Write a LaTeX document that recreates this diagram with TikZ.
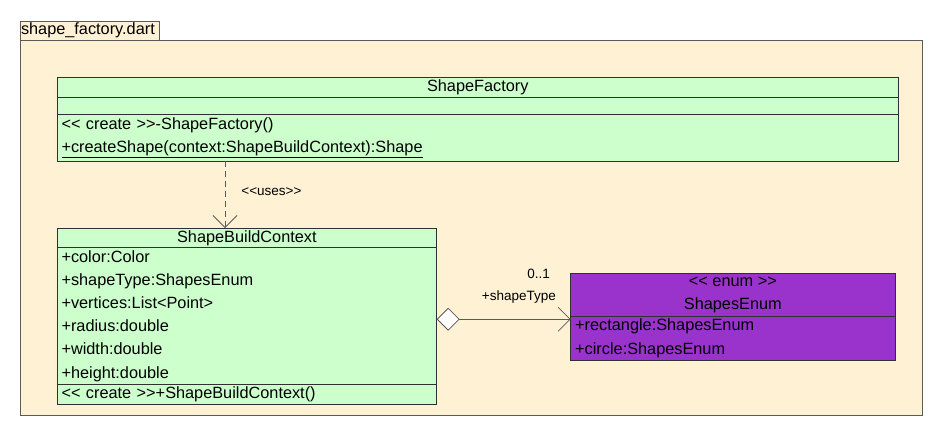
\documentclass[tikz,border=0pt]{standalone}
\usepackage{fontspec}
\newfontfamily\umlfont{Liberation Sans}
\usetikzlibrary{arrows.meta, positioning}

\definecolor{pkgbeige}{HTML}{FFF2D4}
\definecolor{classgreen}{HTML}{CCFFCC}
\definecolor{enumpurple}{HTML}{9933CC}
\definecolor{umlline}{HTML}{303030}
\definecolor{edgegray}{HTML}{5A5A5A}

\tikzset{
    pkgbox/.style={draw=edgegray, fill=pkgbeige, line width=0.8pt, inner sep=0pt, outer sep=0pt},
    classpart/.style={draw=umlline, fill=classgreen, line width=0.8pt, inner xsep=4.5pt, inner ysep=0pt, outer sep=0pt, align=left,
        font=\umlfont\fontsize{16.3}{23.2}\selectfont},
    enumpart/.style={classpart, fill=enumpurple},
    rolelabel/.style={inner sep=0pt, font=\umlfont\fontsize{13.5}{16}\selectfont},
    depend/.style={draw=edgegray, line width=0.8pt, dash pattern=on 6pt off 4pt, -{Straight Barb[length=12pt, width=24pt]}},
    aggr/.style={draw=edgegray, line width=0.8pt, {Diamond[fill=white, length=23pt, width=23pt]}-{Straight Barb[length=12pt, width=24pt]}}
}

\begin{document}
\begin{tikzpicture}[x=1pt, y=-1pt]
    \useasboundingbox (0,0) rectangle (941,432);

    %% Package shape_factory.dart

    % Tab and body
    \node[pkgbox, anchor=north west, minimum width=139pt, minimum height=19.5pt, text width=137pt, inner xsep=1pt, align=left,
        font=\umlfont\fontsize{16.3}{20}\selectfont] (tab) at (20,21) {shape\_factory.dart};
    \node[pkgbox, anchor=north west, minimum width=902pt, minimum height=375pt] (pkg) at (tab.south west) {};

    %% Classes

    % ShapeFactory
    \node[classpart, anchor=north west, minimum width=841.5pt, minimum height=20pt, align=center] (factory) at (57,77.3) {ShapeFactory};
    \node[classpart, minimum width=841.5pt, minimum height=16.7pt, below=0pt of factory] (factoryattrs) {};
    \node[classpart, text width=832.5pt, minimum height=47.3pt, below=0pt of factoryattrs] (factoryops)
        {<< create >>-ShapeFactory()\\\underline{+createShape(context:ShapeBuildContext):Shape}};

    % ShapeBuildContext
    \node[classpart, anchor=north west, minimum width=379.7pt, minimum height=19.7pt, align=center] (context) at (57,228) {ShapeBuildContext};
    \node[classpart, text width=370.7pt, minimum height=136.3pt, below=0pt of context] (contextattrs)
        {+color:Color\\+shapeType:ShapesEnum\\+vertices:List<Point>\\+radius:double\\+width:double\\+height:double};
    \node[classpart, text width=370.7pt, minimum height=20pt, below=0pt of contextattrs] (contextops)
        {<< create >>+ShapeBuildContext()};

    % ShapesEnum
    \node[enumpart, anchor=north west, minimum width=324.3pt, minimum height=43.4pt, align=center] (enum) at (570.7,273.3)
        {<< enum >>\\ShapesEnum};
    \node[enumpart, text width=315.3pt, minimum height=43.3pt, below=0pt of enum] (enumattrs)
        {+rectangle:ShapesEnum\\+circle:ShapesEnum};

    %% Relations

    % Dependency
    \draw[depend] ([xshift=168pt]factoryops.south west) -- ([xshift=168pt]context.north west)
        node[rolelabel, midway, anchor=west, xshift=16pt, yshift=3pt] {<<uses>>};

    % Aggregation
    \draw[aggr] ([yshift=-3.4pt]contextattrs.east) -- ([yshift=-3.4pt]contextattrs.east -| enumattrs.west)
        node[rolelabel, at end, anchor=east, xshift=-14.5pt, yshift=22pt] {+shapeType}
        node[rolelabel, at end, anchor=east, xshift=-20.5pt, yshift=45pt] {0..1};

\end{tikzpicture}
\end{document}
